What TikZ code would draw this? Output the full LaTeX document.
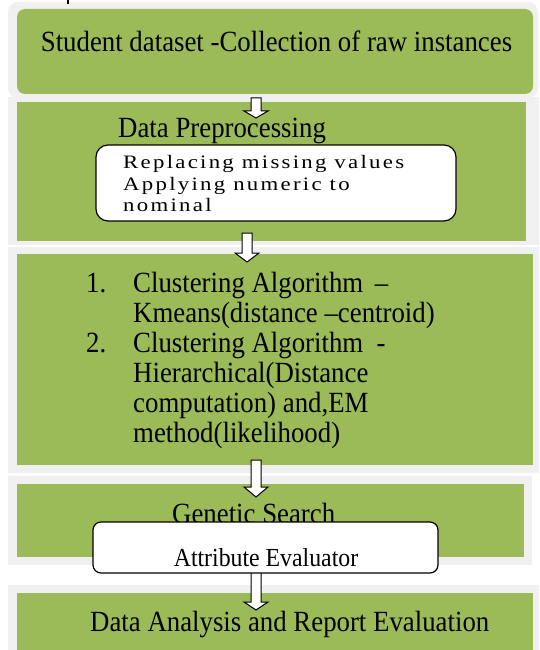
\documentclass[tikz,border=0pt]{standalone}
\usepackage{fontspec}
\setmainfont{Liberation Serif}
\newfontfamily\cond[FakeStretch=0.915]{Liberation Serif}
\newfontfamily\widefont[FakeStretch=1.2,LetterSpace=12]{Liberation Serif}
\usetikzlibrary{calc}
\definecolor{olivegreen}{HTML}{9BBB59}
\definecolor{framegray}{HTML}{F0F0F0}
\tikzset{
  box/.style={inner sep=0pt, outer sep=0pt, anchor=north west},
  framebox/.style={box, fill=framegray, draw=none},
  greenbox/.style={box, fill=olivegreen, draw=none},
  whitebox/.style={box, fill=white, draw=black, line width=1.2pt},
  big/.style={font=\cond\fontsize{29.3}{30}\selectfont, inner sep=0pt},
  mid/.style={font=\cond\fontsize{26}{28}\selectfont, inner sep=0pt},
  small/.style={font=\widefont\fontsize{19}{21}\selectfont, inner sep=0pt},
  blockarrow/.style={draw=black, fill=white, line width=1pt,
    to path={let \p1=(\tikztostart), \p2=(\tikztotarget) in
      (\x1-5pt,\y1) -- (\x1+5pt,\y1) -- (\x1+5pt,\y2+#1) -- (\x1+12pt,\y2+#1)
      -- (\x1,\y2) -- (\x1-12pt,\y2+#1) -- (\x1-5pt,\y2+#1) -- cycle}},
  blockarrow/.default=9pt,
}
\begin{document}
\begin{tikzpicture}[x=1pt,y=-1pt]
\useasboundingbox (0,0) rectangle (539,650);
% frames
\node[framebox, rounded corners=10pt, minimum width=530pt, minimum height=96pt] (f1) at (8,2) {};
\node[framebox, minimum width=531pt, minimum height=148pt] (f2) at (8,97) {};
\node[framebox, minimum width=531pt, minimum height=226pt] (f3) at (8,247) {};
\node[framebox, minimum width=524pt, minimum height=89pt] (f4) at (8,476) {};
\node[framebox, minimum width=531pt, minimum height=70pt] (f5) at (8,585) {};
% green boxes
\node[greenbox, rounded corners=8pt, minimum width=516pt, minimum height=85pt] (g1) at (17,9) {};
\node[greenbox, minimum width=509pt, minimum height=139pt] (g2) at (17,102) {};
\node[greenbox, minimum width=516pt, minimum height=211pt] (g3) at (17,254) {};
\node[greenbox, minimum width=507pt, minimum height=73pt] (g4) at (17,484) {};
\node[greenbox, minimum width=516pt, minimum height=60pt] (g5) at (17,593) {};
% tiny mark at top
\coordinate (m1) at (68,0);
\coordinate (m2) at (68,4);
\draw[line width=1.5pt] (m1) -- (m2);
% arrow anchors
\coordinate (a1s) at (256,98);  \coordinate (a1e) at (256,118);
\coordinate (a2s) at (247,233); \coordinate (a2e) at (247,262);
\coordinate (a3s) at (256,460); \coordinate (a3e) at (256,497);
\coordinate (a4s) at (256,560); \coordinate (a4e) at (256,610);
\draw[blockarrow=7pt] (a1s) to (a1e);
\draw[blockarrow=9pt] (a2s) to (a2e);
\draw[blockarrow=10pt] (a3s) to (a3e);
\draw[blockarrow=8pt] (a4s) to (a4e);
% box 1
\node[big, anchor=base] (t1) at (276.5,52) {Student dataset -Collection of raw instances};
% box 2
\node[big, anchor=base west] (t2) at (118,138) {Data Preprocessing};
\node[whitebox, rounded corners=12pt, minimum width=360pt, minimum height=76pt] (w1) at (96,145) {};
\node[small, anchor=base west] (w1a) at (123,168) {Replacing missing values};
\node[small, anchor=base west] (w1b) at (123,190) {Applying numeric to};
\node[small, anchor=base west] (w1c) at (123,211) {nominal};
% box 3
\node[big, anchor=base west] (n1) at (86,292) {1.};
\node[big, anchor=base west] (l1) at (133,292) {Clustering Algorithm \,–};
\node[big, anchor=base west] (l2) at (133,322) {Kmeans(distance –centroid)};
\node[big, anchor=base west] (n2) at (86,352) {2.};
\node[big, anchor=base west] (l3) at (133,352) {Clustering Algorithm \ -};
\node[big, anchor=base west] (l4) at (133,382) {Hierarchical(Distance};
\node[big, anchor=base west] (l5) at (133,412) {computation) and,EM};
\node[big, anchor=base west] (l6) at (133,442) {method(likelihood)};
% box 4
\node[big, anchor=base west] (gs) at (172,523) {Genetic Search};
\node[whitebox, rounded corners=8pt, minimum width=345pt, minimum height=51pt] (w2) at (93,522) {};
\node[mid, anchor=base] (ae) at (266,566) {Attribute Evaluator};
% box 5
\node[big, anchor=base west] (da) at (90,631) {Data Analysis and Report Evaluation};
\end{tikzpicture}
\end{document}
